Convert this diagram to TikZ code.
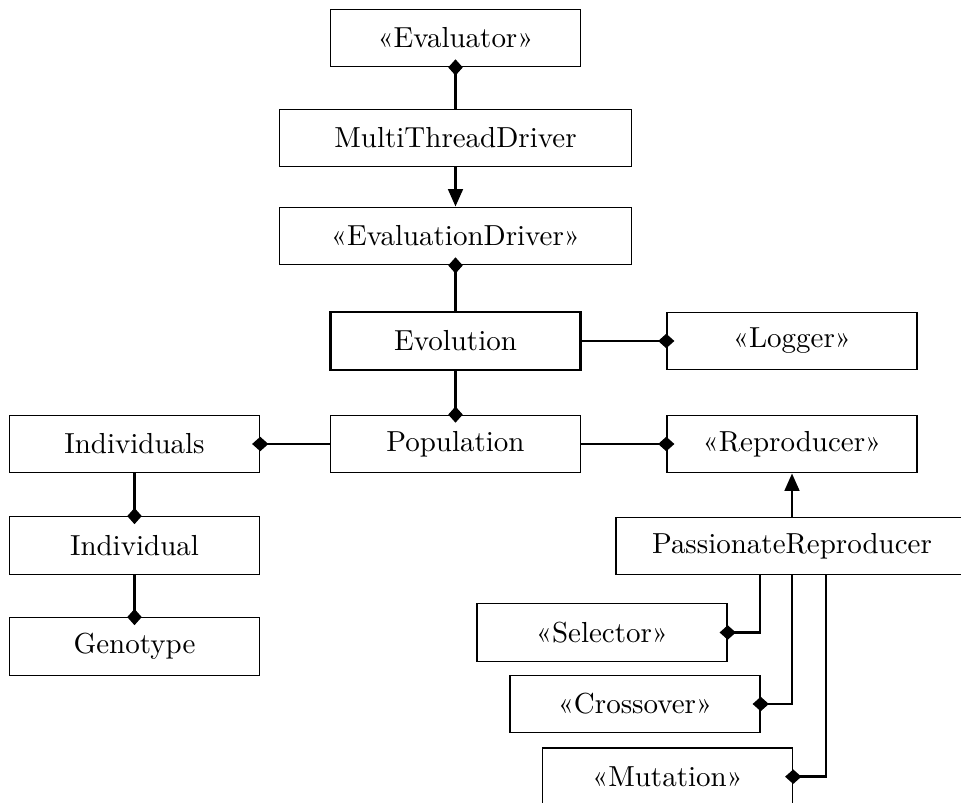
\documentclass[tikz,border=0pt]{standalone}
\usepackage{fontspec}
\usetikzlibrary{arrows.meta,calc}
\tikzset{
  umlclass/.style={
    rectangle, draw, line width=0.45pt, inner sep=0pt,
    minimum width=86.3pt, minimum height=19.85pt
  },
  wideclass/.style={umlclass, minimum width=121.4pt},
  mainclass/.style={umlclass, line width=0.8pt},
  composition/.style={{Diamond[length=5.6pt,width=5pt]}-, line width=1pt, shorten <=-2.8pt},
  realizes/.style={-{Triangle[length=6pt,width=5pt]}, line width=1pt}
}

\begin{document}
\begin{tikzpicture}[x=0.345pt,y=-0.345pt]
\useasboundingbox (0,0) rectangle (961,803);
% evaluation chain
\node[umlclass] (evaluator) at (455.5,38) {«Evaluator»};
\node[wideclass] (mtdriver) at (455.5,138) {MultiThreadDriver};
\node[wideclass] (evaldriver) at (455.5,236) {«EvaluationDriver»};
\node[mainclass] (evolution) at (455.5,341) {Evolution};
\node[umlclass] (logger) at (792,341) {«Logger»};
% population side
\node[umlclass] (population) at (455.5,444) {Population};
\node[umlclass] (individuals) at (134.5,444) {Individuals};
\node[umlclass] (individual) at (134.5,545.5) {Individual};
\node[umlclass] (genotype) at (134.5,646.5) {Genotype};
% reproduction side
\node[umlclass] (reproducer) at (792,444) {«Reproducer»};
\node[wideclass] (passrep) at (792,546) {PassionateReproducer};
\node[umlclass] (selector) at (602,632.5) {«Selector»};
\node[umlclass] (crossover) at (635,704) {«Crossover»};
\node[umlclass] (mutation) at (667.5,776.7) {«Mutation»};
\draw[composition] (evaluator) -- (mtdriver);
\draw[realizes] (mtdriver) -- (evaldriver);
\draw[composition] (evaldriver) -- (evolution);
\draw[composition] (logger) -- (evolution);
\draw[composition] (population) -- (evolution);
\draw[composition] (individuals) -- (population);
\draw[composition] (reproducer) -- (population);
\draw[composition] (individual) -- (individuals);
\draw[composition] (genotype) -- (individual);
\draw[realizes] (passrep) -- (reproducer);
\draw[composition] (selector.east) -| ($(passrep.south)+(-32,0)$);
\draw[composition] (crossover.east) -| (passrep.south);
\draw[composition] (mutation.east) -| ($(passrep.south)+(34,0)$);
\end{tikzpicture}
\end{document}
